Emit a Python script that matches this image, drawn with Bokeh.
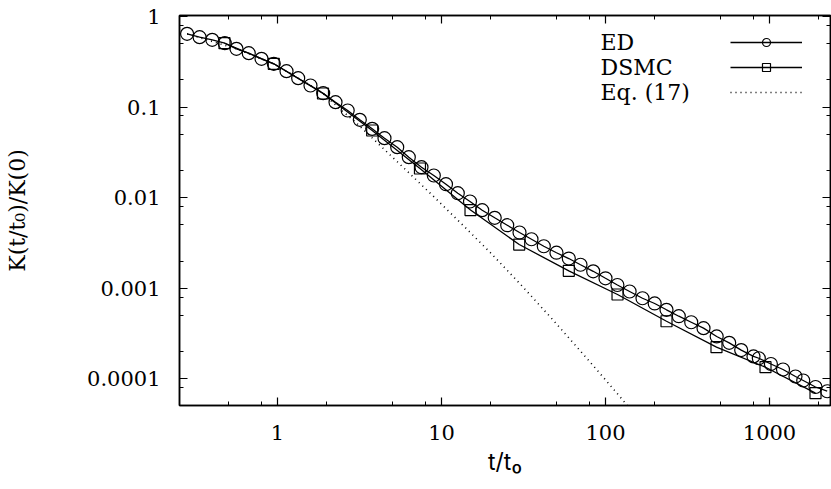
from bokeh.plotting import figure
from bokeh.models import FixedTicker, LogAxis, Legend, LegendItem, Label, Range1d
from bokeh.embed import file_html
from bokeh.resources import INLINE

# ---- data ----
ed_t = [0.281, 0.335, 0.400, 0.477, 0.562, 0.668, 0.799, 0.949, 1.135, 1.337, 1.589,
        1.899, 2.258, 2.679, 3.176, 3.779, 4.491, 5.370, 6.318, 7.551, 8.977, 10.65,
        12.57, 14.92, 17.71, 21.11, 25.16, 29.90, 35.38, 42.05, 50.25, 59.74, 70.41,
        84.14, 100.0, 118.2, 140.3, 168.1, 199.5, 235.5, 279.9, 333.2, 396.0, 476.4,
        567.9, 672.0, 798.7, 860.7, 1020, 1209, 1440, 1606, 1908, 2248]
ed_k = [0.644, 0.591, 0.553, 0.507, 0.440, 0.3935, 0.341, 0.3006, 0.249, 0.2085, 0.1731,
        0.1423, 0.1133, 0.0917, 0.0724, 0.0576, 0.0454, 0.0361, 0.0280, 0.0217, 0.01758,
        0.01409, 0.01121, 0.00908, 0.00728, 0.00600, 0.00497, 0.00413, 0.00348, 0.00291,
        0.00247, 0.00213, 0.00182, 0.00154, 0.00129, 0.001087, 0.000922, 0.000777,
        0.000680, 0.000579, 0.000492, 0.000422, 0.000363, 0.000294, 0.000250, 0.000208,
        0.000177, 0.000169, 0.000146, 0.000127, 0.0001063, 0.0000960, 0.0000814, 0.0000731]

dsmc_t = [0.475, 0.949, 1.894, 3.779, 7.39, 15.03, 29.78, 59.74, 118.4, 235.5, 475.1, 945.5, 1908]
dsmc_k = [0.507, 0.3006, 0.1413, 0.0552, 0.0210, 0.00731, 0.00304, 0.00156, 0.000854,
          0.000433, 0.000224, 0.0001346, 0.0000696]

eq_t = [0.281, 0.562, 0.949, 1.337, 1.589, 1.899, 2.480, 2.918, 3.866, 6.178, 8.977,
        13.68, 19.90, 30.32, 48.40, 70.41, 102.4, 135.6]
eq_k = [0.644, 0.440, 0.3006, 0.2085, 0.1731, 0.1413, 0.0906, 0.0711, 0.0439, 0.01962,
        0.01026, 0.00486, 0.002465, 0.001107, 0.000437, 0.0002026, 0.0000929, 0.0000512]

x_ticks = [1, 10, 100, 1000]
x_tick_labels = ["1", "10", "100", "1000"]
x_minor = [0.2, 0.5, 0.8, 2, 5, 8, 20, 50, 80, 200, 500, 800, 2000]
y_ticks = [1, 0.1, 0.01, 0.001, 0.0001]
y_tick_labels = ["1", "0.1", "0.01", "0.001", "0.0001"]
y_minor = [0.8, 0.5, 0.2, 0.08, 0.05, 0.02, 0.008, 0.005, 0.002,
           0.0008, 0.0005, 0.0002, 0.00008]

series_names = ["ED", "DSMC", "Eq. (17)"]
x_title = "t/t\u2080"
y_title = "K(t/t\u2080)/K(0)"

SERIF = "DejaVu Serif"
SANS = "Inter"

p = figure(width=831, height=489, x_axis_type="log", y_axis_type="log",
           x_range=Range1d(0.2526, 2355), y_range=Range1d(5.086e-5, 1.0257),
           output_backend="svg", toolbar_location=None,
           min_border_left=179, min_border_right=1, min_border_top=15, min_border_bottom=84)
p.grid.visible = False
p.background_fill_color = "white"
p.border_fill_color = "white"
p.outline_line_color = "black"
p.outline_line_width = 1.5


def style_axis(ax, ticks, minor, labels, show_labels):
    ax.ticker = FixedTicker(ticks=ticks, minor_ticks=minor)
    ax.major_tick_in = 8
    ax.major_tick_out = 0
    ax.minor_tick_in = 4
    ax.minor_tick_out = 0
    ax.axis_line_color = "black"
    ax.axis_line_width = 1.5
    ax.major_tick_line_color = "black"
    ax.major_tick_line_width = 1.2
    ax.minor_tick_line_color = "black"
    ax.minor_tick_line_width = 1.0
    ax.major_label_overrides = dict(zip(ticks, labels))
    if show_labels:
        ax.major_label_text_font = SERIF
        ax.major_label_text_font_size = "21px"
        ax.major_label_text_font_style = "normal"
        ax.major_label_text_color = "black"
    else:
        ax.major_label_text_font_size = "2px"
        ax.major_label_text_alpha = 0
        ax.major_label_standoff = 0


style_axis(p.xaxis[0], x_ticks, x_minor, x_tick_labels, True)
style_axis(p.yaxis[0], y_ticks, y_minor, y_tick_labels, True)
p.xaxis[0].major_label_standoff = 19
p.yaxis[0].major_label_standoff = 19

p.yaxis[0].axis_label = y_title
p.yaxis[0].axis_label_text_font = SERIF
p.yaxis[0].axis_label_text_font_size = "22px"
p.yaxis[0].axis_label_text_font_style = "normal"
p.yaxis[0].axis_label_text_color = "black"
p.yaxis[0].axis_label_standoff = 54

p.xaxis[0].axis_label = x_title
p.xaxis[0].axis_label_text_font = SANS
p.xaxis[0].axis_label_text_font_size = "23px"
p.xaxis[0].axis_label_text_font_style = "normal"
p.xaxis[0].axis_label_text_color = "black"
p.xaxis[0].axis_label_standoff = 5

top_ax = LogAxis()
style_axis(top_ax, x_ticks, x_minor, x_tick_labels, False)
p.add_layout(top_ax, "above")
right_ax = LogAxis()
style_axis(right_ax, y_ticks, y_minor, y_tick_labels, False)
p.add_layout(right_ax, "right")

# ---- data ----
ed_line = p.line(ed_t, ed_k, line_color="black", line_width=1.3)
ed_pts = p.scatter(ed_t, ed_k, marker="circle", size=13, fill_color=None,
                   line_color="black", line_width=1.2)
ds_line = p.line(dsmc_t, dsmc_k, line_color="black", line_width=1.3)
ds_pts = p.scatter(dsmc_t, dsmc_k, marker="square", size=11, fill_color=None,
                   line_color="black", line_width=1.2)
eq_line = p.line(eq_t, eq_k, line_color="black", line_width=1.6, line_dash="1 4")

legend = Legend(items=[LegendItem(label=" ", renderers=[ed_line, ed_pts]),
                       LegendItem(label=" ", renderers=[ds_line, ds_pts]),
                       LegendItem(label=" ", renderers=[eq_line])],
                location=(551, 303), glyph_width=72, glyph_height=20,
                label_width=1, label_height=20, label_standoff=0,
                padding=0, margin=0, spacing=5,
                border_line_alpha=0, background_fill_alpha=0,
                label_text_font_size="2px", label_text_alpha=0)
p.add_layout(legend, "center")

row_y = [363.3, 338.3, 313.3]
for name, yy in zip(series_names, row_y):
    p.add_layout(Label(x=421, y=yy, x_units="screen", y_units="screen", text=name,
                       text_baseline="middle", text_font=SERIF,
                       text_font_size="22px", text_font_style="normal",
                       text_color="black"))

open("out.html", "w").write(file_html(p, INLINE))
